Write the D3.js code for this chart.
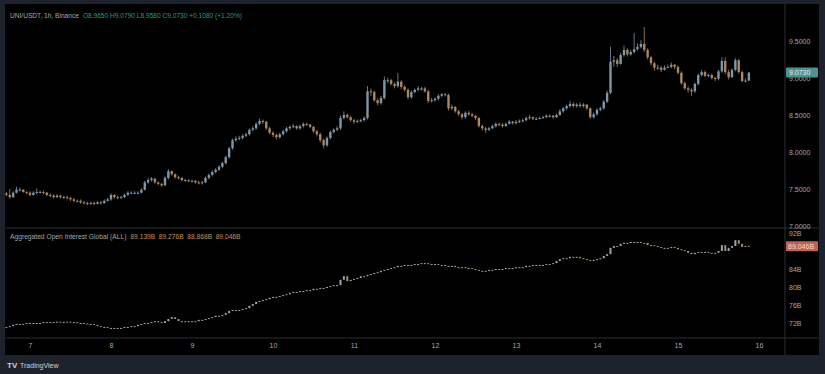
<!DOCTYPE html>
<html>
<head>
<meta charset="utf-8">
<script src="https://cdn.jsdelivr.net/npm/d3@7"></script>
<style>
  html, body { margin: 0; padding: 0; background: #1e222d; }
  svg { display: block; font-family: "Liberation Sans", Arial, sans-serif; }
</style>
</head>
<body>
<div id="chart"></div>
<script>
// UNI/USDT 1h candles, Jul 6 17:00 -> Jul 15 21:00
var startTime = Date.UTC(2024, 6, 6, 17);
var dayTicks = [7, 8, 9, 10, 11, 12, 13, 14, 15, 16];
var priceTicks = [7, 7.5, 8, 8.5, 9, 9.5];
var oiTicks = [72, 76, 80, 84, 88, 92];

var firstOpen = 7.44;
var closes = [
  7.42, 7.39, 7.45, 7.49, 7.49, 7.46, 7.45,
  7.42, 7.45, 7.46, 7.46, 7.45, 7.42, 7.41, 7.39, 7.41, 7.39, 7.39, 7.38, 7.36, 7.34, 7.34, 7.32, 7.31, 7.30, 7.31, 7.30, 7.32, 7.31, 7.34, 7.36,
  7.42, 7.39, 7.38, 7.39, 7.42, 7.45, 7.45, 7.45, 7.45, 7.49, 7.59, 7.62, 7.64, 7.59, 7.57, 7.55, 7.65, 7.74, 7.70, 7.66, 7.65, 7.62, 7.62, 7.61,
  7.61, 7.59, 7.58, 7.59, 7.65, 7.69, 7.73, 7.76, 7.80, 7.85, 7.93, 8.05, 8.16, 8.18, 8.19, 8.22, 8.24, 8.30, 8.32, 8.38, 8.42, 8.41, 8.32, 8.26,
  8.23, 8.20, 8.24, 8.28, 8.32, 8.34, 8.35, 8.32, 8.35, 8.38, 8.37, 8.34, 8.28, 8.24, 8.16, 8.09, 8.19, 8.27, 8.30, 8.32, 8.46, 8.50, 8.47, 8.43,
  8.41, 8.42, 8.43, 8.46, 8.82, 8.81, 8.70, 8.66, 8.73, 8.97, 8.97, 8.92, 8.89, 8.95, 8.88, 8.84, 8.74, 8.81, 8.84, 8.86, 8.86, 8.82, 8.69, 8.70,
  8.72, 8.76, 8.78, 8.77, 8.59, 8.61, 8.55, 8.51, 8.47, 8.53, 8.51, 8.49, 8.46, 8.35, 8.32, 8.30, 8.32, 8.35, 8.38, 8.37, 8.35, 8.38, 8.41, 8.39,
  8.41, 8.42, 8.43, 8.46, 8.47, 8.45, 8.45, 8.46, 8.47, 8.49, 8.49, 8.47, 8.50, 8.55, 8.59, 8.62, 8.65, 8.62, 8.64, 8.62, 8.64, 8.59, 8.47, 8.51,
  8.57, 8.59, 8.68, 8.80, 9.22, 9.24, 9.19, 9.31, 9.38, 9.32, 9.35, 9.39, 9.42, 9.46, 9.38, 9.28, 9.20, 9.14, 9.14, 9.11, 9.14, 9.15, 9.18, 9.15,
  9.07, 8.93, 8.86, 8.84, 8.82, 8.92, 9.04, 9.08, 9.03, 9.04, 9.00, 8.99, 9.09, 9.23, 9.08, 9.01, 9.11, 9.24, 9.08, 8.96, 8.965, 9.073
];
var highs = [
  7.46, 7.50, 7.47, 7.53, 7.52, 7.50, 7.47,
  7.47, 7.47, 7.51, 7.48, 7.48, 7.46, 7.44, 7.43, 7.43, 7.42, 7.41, 7.41, 7.39, 7.38, 7.36, 7.36, 7.34, 7.33, 7.33, 7.33, 7.34, 7.34, 7.36, 7.38,
  7.44, 7.43, 7.41, 7.41, 7.44, 7.47, 7.47, 7.47, 7.47, 7.51, 7.61, 7.65, 7.66, 7.65, 7.60, 7.58, 7.67, 7.77, 7.75, 7.71, 7.68, 7.66, 7.64, 7.63,
  7.63, 7.62, 7.61, 7.61, 7.67, 7.71, 7.75, 7.78, 7.82, 7.87, 7.95, 8.07, 8.18, 8.21, 8.22, 8.24, 8.26, 8.32, 8.35, 8.40, 8.45, 8.44, 8.42, 8.34,
  8.28, 8.25, 8.26, 8.30, 8.34, 8.36, 8.38, 8.36, 8.37, 8.40, 8.40, 8.38, 8.35, 8.30, 8.26, 8.18, 8.21, 8.29, 8.32, 8.35, 8.49, 8.55, 8.52, 8.49,
  8.45, 8.44, 8.45, 8.48, 8.89, 8.86, 8.83, 8.72, 8.76, 9.02, 9.00, 8.99, 8.94, 9.07, 8.97, 8.90, 8.86, 8.83, 8.86, 8.89, 8.88, 8.88, 8.84, 8.73,
  8.74, 8.78, 8.80, 8.80, 8.79, 8.64, 8.62, 8.57, 8.53, 8.55, 8.55, 8.53, 8.50, 8.47, 8.37, 8.34, 8.34, 8.37, 8.40, 8.40, 8.39, 8.40, 8.43, 8.42,
  8.43, 8.44, 8.45, 8.48, 8.50, 8.48, 8.47, 8.48, 8.49, 8.51, 8.51, 8.50, 8.52, 8.58, 8.61, 8.64, 8.69, 8.67, 8.66, 8.67, 8.66, 8.65, 8.60, 8.53,
  8.59, 8.61, 8.70, 8.83, 9.42, 9.30, 9.27, 9.34, 9.44, 9.40, 9.38, 9.61, 9.47, 9.51, 9.69, 9.40, 9.30, 9.22, 9.18, 9.16, 9.17, 9.18, 9.21, 9.19,
  9.17, 9.09, 8.95, 8.89, 8.86, 8.94, 9.06, 9.11, 9.10, 9.06, 9.06, 9.02, 9.11, 9.28, 9.28, 9.11, 9.13, 9.27, 9.26, 9.10, 8.99, 9.079
];
var lows = [
  7.40, 7.37, 7.38, 7.44, 7.47, 7.45, 7.43,
  7.40, 7.41, 7.43, 7.44, 7.43, 7.40, 7.39, 7.37, 7.38, 7.37, 7.37, 7.36, 7.34, 7.32, 7.32, 7.30, 7.29, 7.28, 7.29, 7.28, 7.29, 7.29, 7.30, 7.33,
  7.34, 7.37, 7.36, 7.37, 7.38, 7.41, 7.43, 7.43, 7.43, 7.44, 7.48, 7.57, 7.60, 7.57, 7.55, 7.53, 7.54, 7.63, 7.68, 7.64, 7.63, 7.60, 7.60, 7.59,
  7.59, 7.57, 7.56, 7.56, 7.58, 7.63, 7.67, 7.71, 7.74, 7.78, 7.83, 7.91, 8.03, 8.14, 8.16, 8.17, 8.20, 8.22, 8.28, 8.30, 8.36, 8.38, 8.30, 8.24,
  8.20, 8.17, 8.18, 8.22, 8.26, 8.30, 8.32, 8.30, 8.30, 8.33, 8.35, 8.32, 8.26, 8.21, 8.13, 8.05, 8.07, 8.17, 8.25, 8.28, 8.30, 8.44, 8.45, 8.41,
  8.38, 8.39, 8.40, 8.41, 8.44, 8.76, 8.68, 8.63, 8.64, 8.71, 8.93, 8.90, 8.86, 8.87, 8.85, 8.82, 8.71, 8.72, 8.79, 8.82, 8.83, 8.80, 8.66, 8.67,
  8.68, 8.70, 8.74, 8.75, 8.56, 8.57, 8.53, 8.49, 8.44, 8.45, 8.49, 8.47, 8.43, 8.33, 8.29, 8.26, 8.28, 8.31, 8.33, 8.35, 8.33, 8.34, 8.37, 8.37,
  8.37, 8.39, 8.40, 8.41, 8.44, 8.43, 8.43, 8.44, 8.45, 8.46, 8.47, 8.45, 8.46, 8.49, 8.53, 8.57, 8.60, 8.60, 8.60, 8.60, 8.60, 8.57, 8.45, 8.45,
  8.49, 8.55, 8.57, 8.66, 8.78, 9.15, 9.15, 9.18, 9.29, 9.29, 9.30, 9.33, 9.37, 9.40, 9.35, 9.25, 9.17, 9.10, 9.11, 9.08, 9.10, 9.13, 9.13, 9.12,
  9.05, 8.91, 8.84, 8.80, 8.76, 8.80, 8.90, 9.02, 9.01, 9.01, 8.98, 8.96, 8.97, 9.07, 9.05, 8.98, 9.00, 9.09, 9.06, 8.94, 8.94, 8.958
];

// aggregated open interest, billions, same hours
var oiFirstOpen = 71.0;
var oiCloses = [
  71.1, 71.3, 71.6, 71.8, 71.8, 71.8, 72.0,
  72.0, 72.0, 72.0, 72.0, 72.2, 72.2, 72.2, 72.2, 72.3, 72.2, 72.2, 72.3, 72.2, 72.2, 72.0, 72.0, 71.9, 71.8, 71.8, 71.6, 71.3, 71.1, 71.1, 70.9,
  70.9, 70.9, 70.9, 70.9, 71.1, 71.1, 71.3, 71.3, 71.6, 71.8, 72.0, 72.0, 72.2, 72.4, 72.2, 72.0, 72.4, 72.9, 73.3, 72.9, 72.4, 72.4, 72.4, 72.4,
  72.4, 72.4, 72.7, 72.7, 72.9, 73.1, 73.3, 73.6, 73.6, 73.8, 74.2, 74.7, 74.9, 74.9, 74.9, 75.1, 75.3, 75.8, 76.2, 76.7, 76.9, 77.1, 77.3, 77.6,
  77.8, 77.8, 78.0, 78.2, 78.4, 78.7, 78.9, 78.9, 79.1, 79.1, 79.3, 79.3, 79.6, 79.6, 79.8, 79.8, 80.0, 80.2, 80.4, 80.4, 81.6, 82.4, 81.3, 81.6,
  81.8, 82.0, 82.4, 82.4, 82.7, 82.9, 83.1, 83.3, 83.6, 83.8, 84.0, 84.2, 84.4, 84.7, 84.7, 84.9, 84.9, 84.9, 85.1, 85.1, 85.3, 85.3, 85.1, 85.1,
  85.1, 84.9, 84.9, 84.7, 84.7, 84.7, 84.4, 84.4, 84.4, 84.2, 84.2, 84.0, 83.8, 83.6, 83.6, 83.6, 83.8, 83.8, 84.0, 84.0, 84.0, 84.2, 84.2, 84.2,
  84.4, 84.4, 84.4, 84.7, 84.7, 84.9, 84.9, 84.9, 84.9, 85.1, 85.1, 85.3, 85.8, 86.2, 86.4, 86.4, 86.7, 86.7, 86.7, 86.4, 86.2, 86.0, 85.8, 86.0,
  86.2, 86.4, 86.9, 87.3, 88.7, 89.1, 89.1, 89.6, 89.8, 89.8, 90.0, 90.0, 90.0, 89.8, 89.8, 89.3, 89.3, 89.1, 88.9, 88.7, 88.7, 88.7, 88.9, 88.7,
  88.4, 88.2, 88.0, 87.6, 87.3, 87.6, 87.8, 87.8, 87.8, 87.6, 87.6, 87.6, 88.0, 89.3, 88.0, 88.7, 89.1, 90.4, 89.6, 88.9, 89.14, 89.046
];
var oiLegend = ['89.139B', '89.276B', '88.868B', '89.046B'];

var W = 825, H = 374,
    padL = 5, padT = 4, padR = 819, padB = 355,
    axisX = 785, paneSep = 228, timeTop = 338,
    upCol = '#7f96a9', downCol = '#ab8660',
    oiUp = '#9ea3a9', oiDown = '#a8926a',
    txt = '#a4a7af', line = '#2a2e39';

var svg = d3.select('#chart').append('svg')
    .attr('width', W)
    .attr('height', H);

svg.append('rect').attr('width', W).attr('height', H).attr('fill', '#1e222d');
svg.append('rect')
    .attr('x', padL).attr('y', padT)
    .attr('width', padR - padL).attr('height', padB - padT)
    .attr('fill', '#000');

var x = d3.scaleUtc()
    .domain([Date.UTC(2024, 6, 7), Date.UTC(2024, 6, 16)])
    .range([30, 759]);
var yP = d3.scaleLinear().domain([7, 9.5]).range([226, 41]);
var yO = d3.scaleLinear().domain([72, 92]).range([323, 233]);

var candles = closes.map(function(c, i){
  return {
    t: new Date(startTime + i * 36e5),
    o: i === 0 ? firstOpen : closes[i - 1],
    h: highs[i], l: lows[i], c: c
  };
});
var oiCandles = oiCloses.map(function(c, i){
  var o = i === 0 ? oiFirstOpen : oiCloses[i - 1];
  return { t: new Date(startTime + i * 36e5), o: o, c: c };
});

svg.append('clipPath').attr('id', 'clipTop')
  .append('rect').attr('x', padL).attr('y', padT).attr('width', axisX - padL).attr('height', paneSep - padT);
svg.append('clipPath').attr('id', 'clipBot')
  .append('rect').attr('x', padL).attr('y', paneSep).attr('width', axisX - padL).attr('height', timeTop - paneSep);

var bw = 2.4;

// price candles
var gP = svg.append('g').attr('clip-path', 'url(#clipTop)');
var cg = gP.selectAll('g.candle').data(candles).enter().append('g')
    .attr('class', 'candle')
    .attr('fill', function(d){ return d.c >= d.o ? upCol : downCol; })
    .attr('stroke', function(d){ return d.c >= d.o ? upCol : downCol; });
cg.append('line')
    .attr('x1', function(d){ return x(d.t); })
    .attr('x2', function(d){ return x(d.t); })
    .attr('y1', function(d){ return yP(d.h); })
    .attr('y2', function(d){ return yP(d.l); })
    .attr('stroke-width', 0.8);
cg.append('rect')
    .attr('stroke', 'none')
    .attr('x', function(d){ return x(d.t) - bw / 2; })
    .attr('width', bw)
    .attr('y', function(d){ return yP(Math.max(d.o, d.c)); })
    .attr('height', function(d){ return Math.max(1, Math.abs(yP(d.o) - yP(d.c))); });

// open interest candles
var gO = svg.append('g').attr('clip-path', 'url(#clipBot)');
gO.selectAll('rect').data(oiCandles).enter().append('rect')
    .attr('fill', function(d){ return d.c >= d.o ? oiUp : oiDown; })
    .attr('x', function(d){ return x(d.t) - 1; })
    .attr('width', 2)
    .attr('y', function(d){ return yO(Math.max(d.o, d.c)); })
    .attr('height', function(d){ return Math.max(1, Math.abs(yO(d.o) - yO(d.c))); });

// separators
svg.append('line').attr('x1', padL).attr('x2', padR).attr('y1', paneSep).attr('y2', paneSep)
    .attr('stroke', line).attr('stroke-width', 1);
svg.append('line').attr('x1', padL).attr('x2', padR).attr('y1', timeTop).attr('y2', timeTop)
    .attr('stroke', line).attr('stroke-width', 1);
svg.append('line').attr('x1', axisX).attr('x2', axisX).attr('y1', padT).attr('y2', padB)
    .attr('stroke', line).attr('stroke-width', 1);

function styleAxis(g){
  g.select('.domain').remove();
  g.selectAll('text').attr('fill', txt).attr('font-size', '7px')
    .attr('font-family', '"Liberation Sans", Arial, sans-serif');
}

var lastP = candles[candles.length - 1], lastO = oiCandles[oiCandles.length - 1];

svg.append('g')
    .attr('transform', 'translate(0,' + timeTop + ')')
    .call(d3.axisBottom(x)
      .tickValues(dayTicks.map(function(d){ return new Date(Date.UTC(2024, 6, d)); }))
      .tickFormat(d3.utcFormat('%-d'))
      .tickSize(0).tickPadding(5))
    .call(styleAxis);

svg.append('g')
    .attr('transform', 'translate(' + (axisX + 2) + ',0)')
    .call(d3.axisRight(yP).tickValues(priceTicks).tickFormat(d3.format('.4f')).tickSize(0).tickPadding(2))
    .call(styleAxis);

// the last-value tag hides the tick beneath it
svg.append('g')
    .attr('transform', 'translate(' + (axisX + 2) + ',0)')
    .call(d3.axisRight(yO)
      .tickValues(oiTicks.filter(function(v){ return Math.abs(yO(v) - yO(lastO.c)) > 8; }))
      .tickFormat(function(d){ return d + 'B'; }).tickSize(0).tickPadding(2))
    .call(styleAxis);

// last value labels
svg.append('rect').attr('x', axisX + 1).attr('y', yP(lastP.c) - 5).attr('width', 32).attr('height', 10)
    .attr('rx', 1).attr('fill', '#4a9391');
svg.append('text').attr('x', axisX + 4).attr('y', yP(lastP.c)).attr('dy', '0.33em')
    .attr('font-size', '7px').attr('fill', '#e6eef0').text(d3.format('.4f')(lastP.c));
svg.append('rect').attr('x', axisX + 1).attr('y', yO(lastO.c) - 5).attr('width', 32).attr('height', 10)
    .attr('rx', 1).attr('fill', '#bf6354');
svg.append('text').attr('x', axisX + 3).attr('y', yO(lastO.c)).attr('dy', '0.33em')
    .attr('font-size', '7px').attr('fill', '#f4dcd6').text(d3.format('.3f')(lastO.c) + 'B');

// legends
var t1 = svg.append('text').attr('x', 10).attr('y', 17.5).attr('font-size', '6.6px');
t1.append('tspan').attr('fill', txt).text('UNI/USDT, 1h, Binance');
t1.append('tspan').attr('fill', '#2a9a88').attr('dx', 4)
  .text('O' + d3.format('.4f')(lastP.o) + ' H' + d3.format('.4f')(lastP.h) +
        ' L' + d3.format('.4f')(lastP.l) + ' C' + d3.format('.4f')(lastP.c) +
        ' +0.1080 (+1.20%)');

var t2 = svg.append('text').attr('x', 10).attr('y', 238.5).attr('font-size', '6.7px');
t2.append('tspan').attr('fill', txt).text('Aggregated Open Interest Global (ALL)');
oiLegend.forEach(function(s, i){
  t2.append('tspan').attr('fill', '#c4925f').attr('dx', i === 0 ? 4 : 3.5).text(s);
});

// branding
svg.append('text').attr('x', 7).attr('y', 368).attr('font-size', '8px').attr('font-weight', 'bold')
    .attr('fill', '#d1d4dc').text('TV');
svg.append('text').attr('x', 20).attr('y', 368).attr('font-size', '7px')
    .attr('fill', '#d1d4dc').text('TradingView');
</script>
</body>
</html>
